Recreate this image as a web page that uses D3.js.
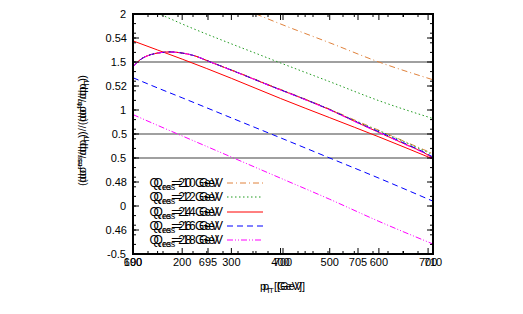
<!DOCTYPE html>
<html>
<head>
<meta charset="utf-8">
<script src="https://cdn.jsdelivr.net/npm/d3@7"></script>
<style>
  body { margin: 0; background: #fff; }
  text { font-family: "Liberation Sans", Arial, sans-serif; font-size: 11px; fill: #000; }
</style>
</head>
<body>
<script>
// --- data ---------------------------------------------------------------
var xTicksA = [100, 200, 300, 400, 500, 600, 700];
var xTicksB = [690, 695, 700, 705, 710];
var yTicks1 = [-0.5, 0, 0.5, 1, 1.5, 2];
var yTicks2 = [0.46, 0.48, 0.5, 0.52, 0.54];
var refLines1 = [0.5, 1.5];
var refLines2 = [0.5];

var qA = ['20', '22', '24', '26', '28'];
var qB = ['10', '12', '14', '16', '18'];

// separated curves
var lineX = [100, 150, 200, 300, 350, 400, 500, 600, 710];
var lineOrange = [null, null, null, null, 2.0, 1.896, 1.70, 1.50, 1.315];
var lineGreen = [null, 2.01, 1.896, 1.689, 1.59, 1.49, 1.295, 1.097, 0.911];
var lineRed = [1.72, 1.625, 1.53, 1.33, 1.225, 1.12, 0.92, 0.72, 0.49];
var lineBlue = [1.336, 1.23, 1.127, 0.918, 0.814, 0.71, 0.50, 0.29, 0.05];
var lineMagenta = [0.952, 0.84, 0.73, 0.51, 0.40, 0.29, 0.07, -0.16, -0.396];

// near-coincident curves
var bumpX = [100, 115, 135, 155, 175, 195, 225, 255, 320, 380, 440, 495, 560, 620, 660, 690, 710];
var bumpOrange = [1.45, 1.525, 1.575, 1.597, 1.605, 1.597, 1.565, 1.505, 1.378, 1.255, 1.135, 1.02, 0.875, 0.745, 0.655, 0.59, 0.545];
var bumpGreen = [1.45, 1.525, 1.575, 1.597, 1.605, 1.597, 1.565, 1.505, 1.376, 1.252, 1.132, 1.017, 0.868, 0.74, 0.65, 0.58, 0.535];
var bumpRed = [1.45, 1.525, 1.575, 1.597, 1.605, 1.597, 1.565, 1.505, 1.375, 1.25, 1.13, 1.015, 0.86, 0.72, 0.63, 0.56, 0.50];
var bumpBlue = [1.45, 1.525, 1.575, 1.597, 1.605, 1.597, 1.565, 1.505, 1.375, 1.25, 1.13, 1.015, 0.863, 0.728, 0.635, 0.565, 0.51];
var bumpMagenta = [1.45, 1.525, 1.575, 1.597, 1.605, 1.597, 1.565, 1.505, 1.374, 1.249, 1.128, 1.012, 0.858, 0.72, 0.625, 0.555, 0.49];

var colors = ['#e0823c', '#1f9a1f', '#ff0000', '#0000ff', '#ff00ff'];
var dashes = ['6,3,1,3', '1.5,2.5', null, '6,4', '6,2,1,2,1,2'];

// --- layout -------------------------------------------------------------
var W = 523, H = 314;
var L = 133, R = 433, T = 14, B = 254;

var svg = d3.select('body').append('svg').attr('width', W).attr('height', H);
svg.append('rect').attr('width', W).attr('height', H).attr('fill', '#fff');

var xA = d3.scaleLinear().domain([100, 710]).range([L, R]);
var xB = d3.scaleLinear().domain([690, 710]).range([L, R]);
var y1 = d3.scaleLinear().domain([-0.5, 2]).range([B, T]);
var y2 = d3.scaleLinear().domain([0.45, 0.55]).range([B, T]);

svg.append('clipPath').attr('id', 'clip').append('rect')
  .attr('x', L).attr('y', T).attr('width', R - L).attr('height', B - T);

// reference lines
var g = svg.append('g').attr('clip-path', 'url(#clip)');
g.selectAll('.ref1').data(refLines1).enter().append('line')
  .attr('x1', L).attr('x2', R).attr('y1', function (d) { return y1(d); }).attr('y2', function (d) { return y1(d); })
  .attr('stroke', '#808080').attr('stroke-width', 1.5);
g.selectAll('.ref2').data(refLines2).enter().append('line')
  .attr('x1', L).attr('x2', R).attr('y1', function (d) { return y2(d); }).attr('y2', function (d) { return y2(d); })
  .attr('stroke', '#808080').attr('stroke-width', 1.5);

var line = d3.line()
  .defined(function (d) { return d[1] !== null; })
  .x(function (d) { return xA(d[0]); })
  .y(function (d) { return y1(d[1]); })
  .curve(d3.curveMonotoneX);

function draw(xs, ys, i) {
  g.append('path')
    .datum(d3.zip(xs, ys))
    .attr('d', line)
    .attr('fill', 'none')
    .attr('stroke', colors[i])
    .attr('stroke-width', 1)
    .attr('stroke-dasharray', dashes[i]);
}

[lineOrange, lineGreen, lineRed, lineBlue, lineMagenta].forEach(function (s, i) { draw(lineX, s, i); });
[bumpOrange, bumpGreen, bumpRed, bumpBlue, bumpMagenta].forEach(function (s, i) { draw(bumpX, s, i); });

// --- ticks --------------------------------------------------------------
var tk = svg.append('g').attr('stroke', '#000').attr('stroke-width', 1);
function xTick(x, len) {
  tk.append('line').attr('x1', x).attr('x2', x).attr('y1', B).attr('y2', B - len);
  tk.append('line').attr('x1', x).attr('x2', x).attr('y1', T).attr('y2', T + len);
}
function yTick(y, len) {
  tk.append('line').attr('y1', y).attr('y2', y).attr('x1', L).attr('x2', L + len);
  tk.append('line').attr('y1', y).attr('y2', y).attr('x1', R).attr('x2', R - len);
}
d3.range(100, 711, 50).forEach(function (v) { xTick(xA(v), v % 100 === 0 ? 6 : 3); });
d3.range(690, 710.1, 1).forEach(function (v) { xTick(xB(v), v % 5 === 0 ? 6 : 3); });
d3.range(-0.5, 2.01, 0.1).forEach(function (v) { yTick(y1(v), Math.abs(v * 2 - Math.round(v * 2)) < 1e-6 ? 6 : 3); });
d3.range(0.45, 0.551, 0.01).forEach(function (v) { yTick(y2(v), 3); });
yTicks2.forEach(function (v) { yTick(y2(v), 6); });

// frame
svg.append('rect').attr('x', L).attr('y', T).attr('width', R - L).attr('height', B - T)
  .attr('fill', 'none').attr('stroke', '#000').attr('stroke-width', 2);

// tick labels
svg.selectAll('.xa').data(xTicksA).enter().append('text')
  .attr('x', function (d) { return xA(d); }).attr('y', 266).attr('text-anchor', 'middle')
  .text(function (d) { return d; });
svg.selectAll('.xb').data(xTicksB).enter().append('text')
  .attr('x', function (d) { return xB(d); }).attr('y', 266).attr('text-anchor', 'middle')
  .text(function (d) { return d; });
svg.selectAll('.y1').data(yTicks1).enter().append('text')
  .attr('x', 126).attr('y', function (d) { return y1(d) + 4; }).attr('text-anchor', 'end')
  .text(function (d) { return d; });
svg.selectAll('.y2').data(yTicks2).enter().append('text')
  .attr('x', 127).attr('y', function (d) { return y2(d) + 4; }).attr('text-anchor', 'end')
  .text(function (d) { return d; });

// axis titles (two overlaid copies)
[0, 3].forEach(function (off) {
  var xt = svg.append('text').attr('x', 281 + off).attr('y', 290).attr('text-anchor', 'middle');
  xt.append('tspan').text('p');
  xt.append('tspan').attr('font-size', '8px').attr('dy', 3).text('T');
  xt.append('tspan').attr('dy', -3).text(' [GeV]');

  var yt = svg.append('text').attr('transform', 'translate(86,' + (132 - off) + ') rotate(-90)')
    .attr('text-anchor', 'middle');
  yt.append('tspan').text('(dσ');
  yt.append('tspan').attr('font-size', '8px').attr('dy', -4).text('res');
  yt.append('tspan').attr('dy', 4).text('/dp');
  yt.append('tspan').attr('font-size', '8px').attr('dy', 3).text('T');
  yt.append('tspan').attr('dy', -3).text(') / (dσ');
  yt.append('tspan').attr('font-size', '8px').attr('dy', -4).text('fo');
  yt.append('tspan').attr('dy', 4).text('/dp');
  yt.append('tspan').attr('font-size', '8px').attr('dy', 3).text('T');
  yt.append('tspan').attr('dy', -3).text(')');
});

// legend (two overlaid label sets)
var legY = [183, 197, 212, 226, 240];
function legText(x, q, yy) {
  var t = svg.append('text').attr('x', x).attr('y', yy + 4).attr('text-anchor', 'end')
    .style('font-size', '12px');
  t.append('tspan').text('Q');
  t.append('tspan').attr('font-size', '9px').attr('dy', 3).text('res');
  t.append('tspan').attr('dy', -3).text('=' + q + ' GeV');
}
legY.forEach(function (yy, i) {
  legText(219, qA[i], yy);
  legText(223, qB[i], yy);
  svg.append('line').attr('x1', 227).attr('x2', 263).attr('y1', yy).attr('y2', yy)
    .attr('stroke', colors[i]).attr('stroke-width', 1).attr('stroke-dasharray', dashes[i]);
});
</script>
</body>
</html>
